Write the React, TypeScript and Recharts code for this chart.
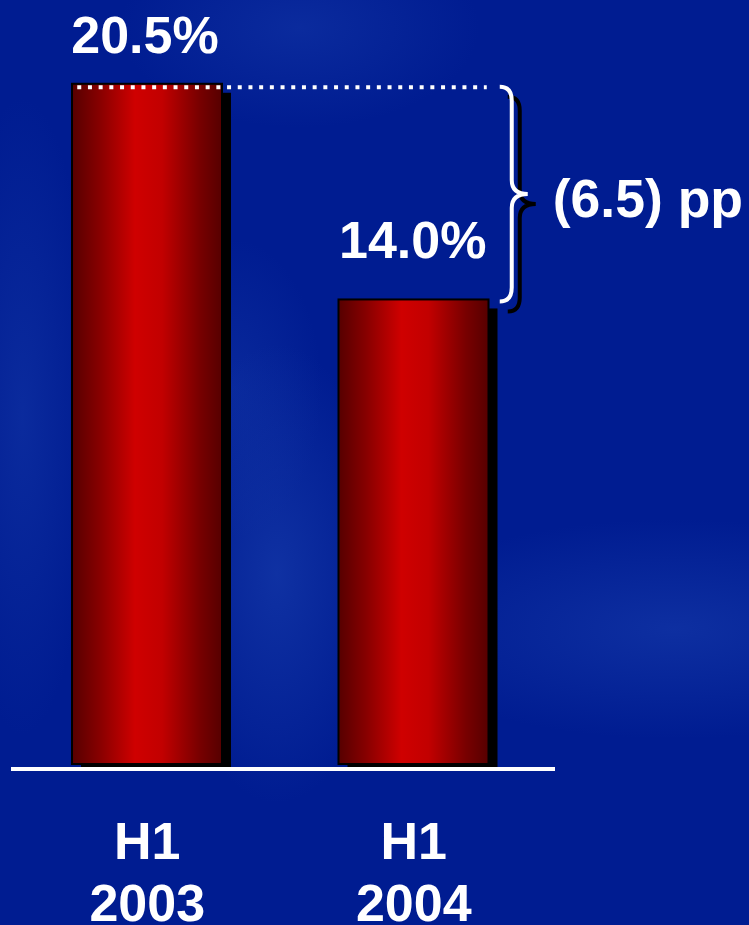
import { BarChart, Bar, XAxis, YAxis, LabelList, ReferenceArea } from "recharts";

const periods = ["H1", "H1"];
const years = ["2003", "2004"];
const margins = [20.5, 14.0];

const data = years.map((year, i) => ({
    name: `${periods[i]} ${year}`,
    value: margins[i],
}));

const FONT = "'Liberation Sans', Arial, Helvetica, sans-serif";
const BAR_SIZE = 150;

const ShadowBar = (props: any) => {
    const { x, y, width, height } = props;
    return (
        <g>
            <rect x={x + 9} y={y + 9} width={width} height={height} fill="#000" />
            <rect
                x={x}
                y={y}
                width={width}
                height={height}
                fill="url(#barFill)"
                stroke="#000"
                strokeWidth={2}
            />
        </g>
    );
};

const ValueLabel = (props: any) => {
    const { x, y, width, index, value } = props;
    const first = index === 0;
    return (
        <text
            x={first ? x + width / 2 - 2 : x + width - 2}
            y={first ? y - 31 : y - 41}
            textAnchor={first ? "middle" : "end"}
            fill="#fff"
            fontSize={52}
            fontWeight={700}
            fontFamily={FONT}
        >
            {Number(value).toFixed(1)}%
        </text>
    );
};

const PeriodTick = ({ x, y, index }: any) => (
    <text textAnchor="middle" fill="#fff" fontSize={52} fontWeight={700} fontFamily={FONT}>
        <tspan x={x} y={y + 90}>
            {periods[index]}
        </tspan>
        <tspan x={x} y={y + 152}>
            {years[index]}
        </tspan>
    </text>
);

// dotted guide from the 2003 top, curly brace and the change in points
const GapBrace = (props: any) => {
    const { x, y, width, height } = props;
    const band = width / 2;
    const pad = (band - BAR_SIZE) / 2;
    const leftBar = x + pad;
    const rightBarEnd = x + band + pad + BAR_SIZE;
    const y0 = y + 3;
    const y1 = y + height + 2;
    const mid = (y0 + y1) / 2;
    const tip = rightBarEnd + 11;
    const spine = tip + 12;
    const point = tip + 28;
    const d = `M ${tip} ${y0} Q ${spine} ${y0} ${spine} ${y0 + 14} L ${spine} ${mid - 14} Q ${spine} ${mid} ${point} ${mid} Q ${spine} ${mid} ${spine} ${mid + 14} L ${spine} ${y1 - 14} Q ${spine} ${y1} ${tip} ${y1}`;
    const diff = (margins[0] - margins[1]).toFixed(1);
    return (
        <g>
            <line
                x1={leftBar + 5}
                x2={rightBarEnd - 2}
                y1={y + 3.5}
                y2={y + 3.5}
                stroke="#fff"
                strokeWidth={4}
                strokeDasharray="4 6.7"
            />
            <path d={d} transform="translate(8 10)" fill="none" stroke="#000" strokeWidth={4} />
            <path d={d} fill="none" stroke="#fff" strokeWidth={4} />
            <text
                x={rightBarEnd + 64}
                y={mid + 23}
                fill="#fff"
                fontSize={53.5}
                fontWeight={700}
                fontFamily={FONT}
            >
                ({diff}) pp
            </text>
        </g>
    );
};

export default function App() {
    return (
        <div
            style={{
                position: "fixed",
                top: 0,
                left: 0,
                width: 749,
                height: 925,
                overflow: "hidden",
                backgroundColor: "#001c91",
                backgroundImage: [
                    "radial-gradient(ellipse 110px 230px at 37% 62%, rgba(30,70,180,0.5), rgba(30,70,180,0) 100%)",
                    "radial-gradient(ellipse 90px 150px at 31% 42%, rgba(30,70,180,0.3), rgba(30,70,180,0) 100%)",
                    "radial-gradient(ellipse 300px 110px at 90% 68%, rgba(30,70,180,0.45), rgba(30,70,180,0) 100%)",
                    "radial-gradient(ellipse 180px 100px at 40% 3%, rgba(30,70,180,0.35), rgba(30,70,180,0) 100%)",
                    "radial-gradient(ellipse 70px 320px at 3% 45%, rgba(30,70,180,0.35), rgba(30,70,180,0) 100%)",
                ].join(", "),
            }}
        >
            <BarChart
                width={749}
                height={925}
                data={data}
                barSize={BAR_SIZE}
                margin={{ top: 34, right: 194, bottom: 0, left: 11 }}
            >
                <defs>
                    <linearGradient id="barFill" x1="0" y1="0" x2="1" y2="0">
                        <stop offset="0" stopColor="#560000" />
                        <stop offset="0.18" stopColor="#860000" />
                        <stop offset="0.42" stopColor="#cf0000" />
                        <stop offset="0.6" stopColor="#c20000" />
                        <stop offset="0.85" stopColor="#780000" />
                        <stop offset="1" stopColor="#560000" />
                    </linearGradient>
                </defs>
                <XAxis
                    dataKey="name"
                    height={156}
                    axisLine={{ stroke: "#fff", strokeWidth: 4 }}
                    tickLine={false}
                    tickSize={0}
                    tickMargin={0}
                    padding={{ left: 3, right: 8 }}
                    tick={<PeriodTick />}
                    interval={0}
                />
                <YAxis hide type="number" domain={[-0.15, 22]} allowDataOverflow />
                <Bar dataKey="value" shape={<ShadowBar />} isAnimationActive={false}>
                    <LabelList dataKey="value" content={<ValueLabel />} />
                </Bar>
                <ReferenceArea
                    x1={data[0].name}
                    x2={data[1].name}
                    y1={margins[1]}
                    y2={margins[0]}
                    ifOverflow="visible"
                    zIndex={1500}
                    shape={<GapBrace />}
                />
            </BarChart>
        </div>
    );
}
